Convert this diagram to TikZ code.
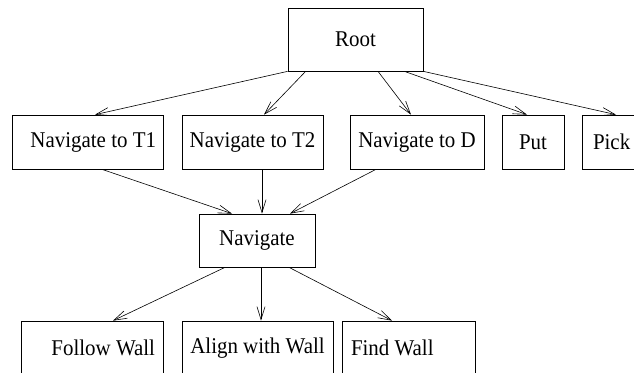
\documentclass[tikz,border=0pt]{standalone}
\usepackage{fontspec}
\setmainfont[FakeStretch=0.93]{Liberation Serif}
\usetikzlibrary{positioning, arrows.meta}

\begin{document}
\begin{tikzpicture}[
    x=1pt, y=-1pt,
    task/.style={rectangle, draw, line width=0.7pt, inner sep=0pt, minimum height=54pt, font=\fontsize{22.5}{26}\selectfont},
    line/.style={draw, line width=0.6pt, -{Straight Barb[length=13pt, width=8pt]}}
]

\useasboundingbox (0,0) rectangle (634,372);
\clip (0,0) rectangle (634,372);

% Root
\node[task, minimum width=135pt, minimum height=63pt] (root) at (355.5,39.5) {Root};

% Subtasks of root
\node[task, text width=137pt, inner xsep=7pt, align=flush right] (nav_t1) at (87.5,142) {Navigate to T1};
\node[task, minimum width=141pt] (nav_t2) at (252.5,142) {Navigate to T2};
\node[task, minimum width=134pt] (nav_d) at (417,142) {Navigate to D};
\node[task, minimum width=62pt] (put) at (533,142) {Put};
\node[task, text width=40pt, inner xsep=11pt, align=flush left] (pick) at (613,142) {Pick};

% Navigate
\node[task, minimum width=116pt, minimum height=53pt] (nav) at (257,240.5) {Navigate};

% Subtasks of navigate
\node[task, text width=126pt, inner xsep=8pt, align=flush right] (follow) at (92,348) {Follow Wall};
\node[task, minimum width=151pt] (align) at (257.5,348) {Align with Wall};
\node[task, text width=115pt, inner xsep=9pt, align=flush left] (find) at (408.5,348) {Find Wall};

% Lines
\draw[line] (root.south west) -- ([xshift=7.5pt]nav_t1.north);
\draw[line] ([xshift=18pt]root.south west) -- ([xshift=11.5pt]nav_t2.north);
\draw[line] ([xshift=22.5pt]root.south) -- ([xshift=-6pt]nav_d.north);
\draw[line] ([xshift=-19pt]root.south east) -- ([xshift=-6pt]put.north);
\draw[line] (root.south east) -- ([xshift=3pt]pick.north);

\draw[line] ([xshift=14.5pt]nav_t1.south) -- ([xshift=-25pt]nav.north);
\draw[line] ([xshift=9.5pt]nav_t2.south) -- ([xshift=5pt]nav.north);
\draw[line] ([xshift=-41pt]nav_d.south) -- ([xshift=33pt]nav.north);

\draw[line] ([xshift=-32pt]nav.south) -- ([xshift=21pt]follow.north);
\draw[line] ([xshift=4pt]nav.south) -- ([xshift=3.5pt]align.north);
\draw[line] ([xshift=32pt]nav.south) -- ([xshift=-16.5pt]find.north);

\end{tikzpicture}
\end{document}
